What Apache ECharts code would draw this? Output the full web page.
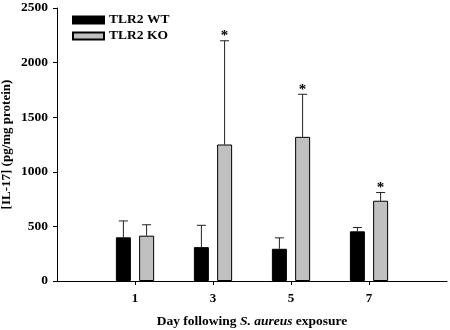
<!DOCTYPE html>
<html>
<head>
<meta charset="utf-8">
<script src="https://cdn.jsdelivr.net/npm/echarts@6/dist/echarts.min.js"></script>
<style>
  html, body { margin: 0; padding: 0; background: #fff; }
  #chart { width: 450px; height: 330px; }
</style>
</head>
<body>
<div id="chart"></div>
<script>
// days after exposure, IL-17 means and upper error bar ends
var days = ['1', '3', '5', '7'];
var wtMean = [400, 310, 295, 455];
var wtUpper = [550, 510, 395, 490];
var koMean = [415, 1250, 1320, 735];
var koUpper = [515, 2200, 1710, 810];
var koSig = [false, true, true, true];   // asterisk above KO bar
var yTicks = [0, 500, 1000, 1500, 2000, 2500];

// pad the axis with an empty slot at each end
var cats = [''].concat(days, ['']);
function pad(arr) { return ['-'].concat(arr, ['-']); }

var serif = '"Liberation Serif", "DejaVu Serif", serif';
var barW = 15;
var shift = 11.6;  // half distance between the two bar centres

function errData(mean, upper, sig) {
  return mean.map(function (v, i) { return [i + 1, v, upper[i], sig ? (sig[i] ? 1 : 0) : 0]; });
}

function errRender(offset) {
  return function (params, api) {
    var idx = api.value(0);
    var x = api.coord([idx, 0])[0] + offset;
    var yTop = api.coord([idx, api.value(1)])[1];
    var yErr = api.coord([idx, api.value(2)])[1];
    var kids = [
      { type: 'line', shape: { x1: x, y1: yTop, x2: x, y2: yErr }, style: { stroke: '#222', lineWidth: 1 } },
      { type: 'line', shape: { x1: x - 4.5, y1: yErr, x2: x + 4.5, y2: yErr }, style: { stroke: '#222', lineWidth: 1 } }
    ];
    if (api.value(3)) {
      kids.push({ type: 'text', style: { x: x, y: yErr + 3, text: '*', align: 'center', verticalAlign: 'bottom',
        font: 'bold 15px ' + serif, fill: '#000' } });
    }
    return { type: 'group', children: kids };
  };
}

var chart = echarts.init(document.getElementById('chart'));
chart.setOption({
  animation: false,
  backgroundColor: '#fff',
  grid: { left: 57, right: 3, top: 8, bottom: 49, outerBoundsMode: 'none', containLabel: false },
  legend: {
    orient: 'vertical', left: 67, top: 8, itemWidth: 31, itemHeight: 7, itemGap: 2,
    icon: 'rect',
    textStyle: { fontFamily: serif, fontWeight: 'bold', fontSize: 13.5, color: '#000' },
    data: ['TLR2 WT', 'TLR2 KO']
  },
  xAxis: {
    type: 'category', data: cats, boundaryGap: false,
    axisLine: { lineStyle: { color: '#000', width: 1 } },
    axisTick: { length: 4, lineStyle: { color: '#000' }, interval: function (i) { return i > 0 && i < cats.length - 1; } },
    axisLabel: { margin: 11, fontFamily: serif, fontWeight: 'bold', fontSize: 13, color: '#000' },
    name: '{b|Day following }{i|S. aureus}{b| exposure}',
    nameLocation: 'middle', nameGap: 34, nameMoveOverlap: false,
    nameTextStyle: {
      rich: {
        b: { fontFamily: serif, fontWeight: 'bold', fontSize: 13.5, color: '#000' },
        i: { fontFamily: serif, fontWeight: 'bold', fontStyle: 'italic', fontSize: 13.5, color: '#000' }
      }
    }
  },
  yAxis: {
    type: 'value', min: yTicks[0], max: yTicks[yTicks.length - 1], interval: 500,
    axisLine: { show: true, lineStyle: { color: '#000', width: 1 } },
    axisTick: { show: true, length: 4, lineStyle: { color: '#000' } },
    splitLine: { show: false },
    axisLabel: { margin: 9, fontFamily: serif, fontWeight: 'bold', fontSize: 13.5, color: '#000',
      formatter: function (v) { return String(v); } },
    name: '[IL-17] (pg/mg protein)', nameLocation: 'middle', nameGap: 44, nameRotate: 90,
    nameMoveOverlap: false,
    nameTextStyle: { fontFamily: serif, fontWeight: 'bold', fontSize: 13, color: '#000' }
  },
  series: [
    { name: 'TLR2 WT', type: 'bar', data: pad(wtMean), barWidth: barW, barGap: '55%',
      itemStyle: { color: '#000', borderColor: '#000', borderWidth: 1 } },
    { name: 'TLR2 KO', type: 'bar', data: pad(koMean), barWidth: barW,
      itemStyle: { color: '#c0c0c0', borderColor: '#000', borderWidth: 1 } },
    { type: 'custom', data: errData(wtMean, wtUpper), renderItem: errRender(-shift), z: 1 },
    { type: 'custom', data: errData(koMean, koUpper, koSig), renderItem: errRender(shift), z: 1 }
  ]
});
</script>
</body>
</html>
